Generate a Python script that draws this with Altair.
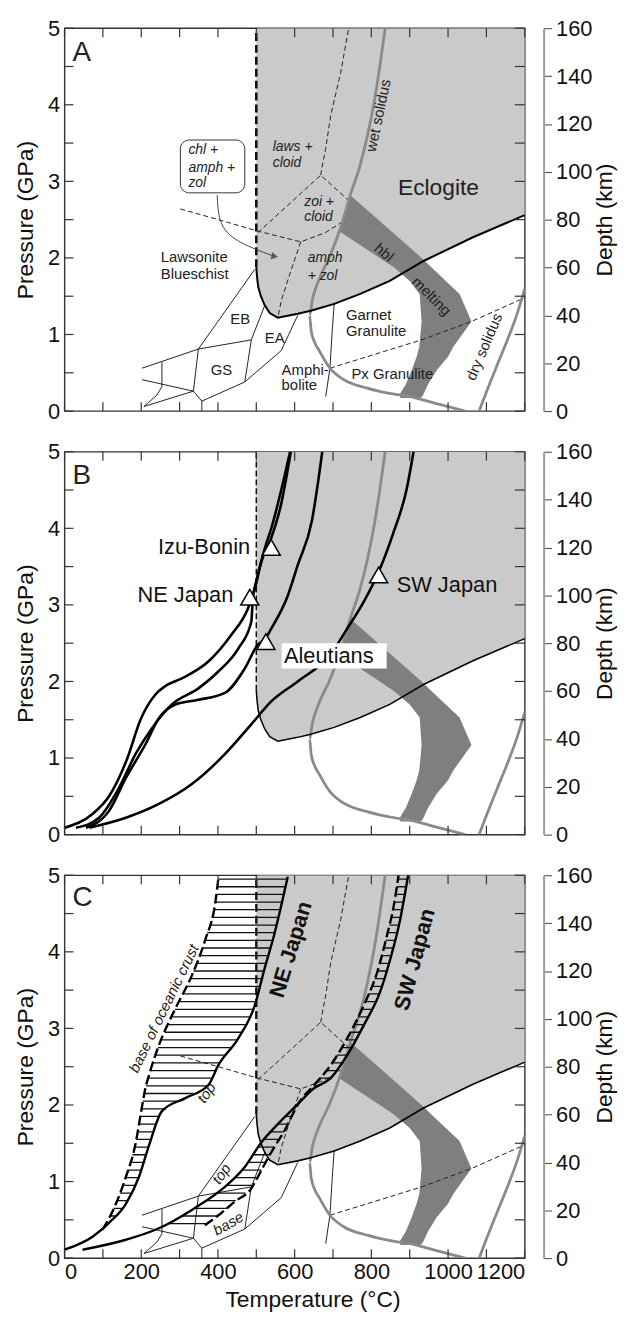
import altair as alt
import numpy as np
import pandas as pd

W, H = 464, 386
FONT = "Liberation Sans"
XS = alt.Scale(domain=[0, 1200], nice=False, zero=False)
YS = alt.Scale(domain=[0, 5], nice=False, zero=False)

# ---------------- data ----------------
T_TICKS = [0, 100, 200, 300, 400, 500, 600, 700, 800, 900, 1000, 1100, 1200]
T_LABELS = [0, 200, 400, 600, 800, 1000, 1200]
P_TICKS = [0, 0.5, 1, 1.5, 2, 2.5, 3, 3.5, 4, 4.5, 5]
P_LABELS = [0, 1, 2, 3, 4, 5]
DEPTH_TICKS = [0, 20, 40, 60, 80, 100, 120, 140, 160]

# eclogite field lower boundary
ECL_T = [500, 502, 505, 512, 522, 535, 556, 608, 642, 703, 771, 848, 936, 1065, 1200]
ECL_P = [1.88, 1.75, 1.62, 1.50, 1.38, 1.28, 1.22, 1.27, 1.31, 1.40, 1.53, 1.70, 1.96, 2.27, 2.56]

# hornblende melting band (pressure, left T, right T)
HBL_P = [2.82, 2.60, 2.35, 2.00, 1.88, 1.70, 1.53, 1.17, 0.84, 0.71, 0.53, 0.35, 0.21, 0.17]
HBL_TL = [745, 730, 716, 822, 858, 900, 926, 931, 925, 918, 905, 890, 873, 876]
HBL_TR = [745, 795, 852, 931, 956, 994, 1030, 1061, 1014, 1000, 970, 948, 935, 929]

WET_T = [836, 822, 806, 790, 770, 745, 720, 690, 662, 646, 639, 643, 652, 664, 692, 728, 789, 860, 901, 960, 1045]
WET_P = [5.0, 4.5, 4.0, 3.6, 3.2, 2.82, 2.4, 2.0, 1.70, 1.45, 1.25, 1.05, 0.90, 0.79, 0.56, 0.41, 0.30, 0.22, 0.19, 0.11, 0.0]
DRY_T = [1081, 1100, 1128, 1158, 1180, 1200]
DRY_P = [0.0, 0.25, 0.60, 0.97, 1.27, 1.60]

V500_T = [500, 500]
V500_P = [1.88, 5.0]

# thin dashed reaction lines
D1_T = [302, 401, 504, 616, 680, 724]
D1_P = [2.64, 2.50, 2.35, 2.21, 2.33, 2.47]
D2_T = [504, 668, 741]
D2_P = [2.33, 3.08, 2.75]
D3_T = [668, 672, 681, 694, 720, 741]
D3_P = [3.08, 3.2, 3.43, 3.86, 4.42, 5.0]
D4_T = [616, 590, 565, 557]
D4_P = [2.21, 1.83, 1.44, 1.24]
GPX_T = [692, 931, 1061, 1200]
GPX_P = [0.56, 0.93, 1.17, 1.48]

# thin solid facies boundaries
VTH_T = [703, 698, 692, 681]
VTH_P = [1.40, 1.05, 0.56, 0.19]
F1_T, F1_P = [496, 349], [1.85, 0.81]
F2_T, F2_P = [202, 349, 487], [0.56, 0.81, 0.93]
F3_T, F3_P = [522, 487, 470], [1.38, 0.93, 0.38]
F4_T, F4_P = [608, 565, 470, 358, 358], [1.25, 0.79, 0.38, 0.13, 0.0]
F5_T, F5_P = [349, 336, 358], [0.81, 0.26, 0.13]
F6_T, F6_P = [202, 336], [0.41, 0.26]
F7_T, F7_P = [207, 336], [0.06, 0.26]
F8_T, F8_P = [254, 254, 241, 207], [0.64, 0.32, 0.21, 0.06]

# chl+amph+zol box and arrow
BOX_T = [302, 470]
BOX_P = [2.85, 3.54]
ARR_T = [398, 400, 410, 440, 480, 520, 548]
ARR_P = [2.82, 2.6, 2.4, 2.25, 2.15, 2.07, 2.02]

# panel B slab-surface paths
NE_B_T = [0, 73, 116, 164, 198, 237, 263, 306, 375, 435, 478, 496, 513, 538, 564, 590]
NE_B_P = [0.09, 0.27, 0.5, 1.0, 1.5, 1.83, 1.94, 2.04, 2.26, 2.61, 2.95, 3.21, 3.56, 3.86, 4.30, 5.0]
IZU_B_T = [30, 90, 142, 185, 228, 280, 349, 401, 453, 487, 491, 502, 520, 542, 565, 588]
IZU_B_P = [0.09, 0.22, 0.61, 1.05, 1.39, 1.70, 1.91, 2.13, 2.43, 2.78, 3.08, 3.35, 3.7, 4.05, 4.5, 5.0]
AL_B_T = [56, 116, 160, 211, 246, 289, 349, 418, 470, 504, 522, 539, 582, 608, 645, 672]
AL_B_P = [0.09, 0.31, 0.74, 1.18, 1.52, 1.70, 1.76, 1.85, 2.17, 2.48, 2.55, 2.69, 3.12, 3.52, 4.1, 5.0]
SW_B_T = [65, 160, 246, 332, 418, 487, 539, 608, 693, 737, 780, 819, 858, 892, 910]
SW_B_P = [0.09, 0.22, 0.40, 0.66, 1.05, 1.44, 1.74, 2.00, 2.35, 2.69, 3.04, 3.43, 3.95, 4.51, 5.0]
TRI_T = [539, 483, 525, 819]
TRI_P = [3.75, 3.10, 2.52, 3.39]

# panel C crust top / base
NE_TOP_T = [0, 73, 116, 160, 194, 222, 254, 315, 375, 401, 453, 496, 521, 548, 582]
NE_TOP_P = [0.11, 0.28, 0.46, 0.71, 1.06, 1.5, 1.92, 2.09, 2.26, 2.52, 2.87, 3.30, 3.77, 4.25, 4.98]
NE_BASE_T = [99, 116, 134, 160, 185, 200, 210, 222, 246, 289, 331, 367, 393, 402]
NE_BASE_P = [0.37, 0.52, 0.71, 1.06, 1.49, 1.92, 2.2, 2.42, 2.78, 3.26, 3.68, 4.16, 4.64, 5.0]
SW_TOP_T = [47, 160, 246, 332, 418, 470, 513, 556, 608, 651, 694, 737, 780, 823, 849, 875, 896]
SW_TOP_P = [0.11, 0.24, 0.39, 0.63, 0.93, 1.19, 1.51, 1.75, 2.01, 2.22, 2.35, 2.65, 3.04, 3.48, 3.90, 4.42, 5.0]
SW_BASE_T = [366, 409, 444, 487, 504, 522, 547, 573, 590, 610, 651, 694, 737, 780, 815, 840, 858, 871]
SW_BASE_P = [0.43, 0.59, 0.74, 0.91, 1.06, 1.23, 1.45, 1.66, 1.83, 2.02, 2.26, 2.52, 2.87, 3.30, 3.73, 4.20, 4.59, 5.0]

# ---------------- helpers ----------------
YAX = alt.Axis(values=P_LABELS, title="Pressure (GPa)", ticks=False, domain=False,
               grid=False, labelPadding=5, titlePadding=10, format="d")
XAX_C = alt.Axis(values=T_LABELS, title="Temperature (°C)", ticks=False, domain=False,
                 grid=False, labelPadding=4, titlePadding=6, format="d",
                 titleX=250, titleAlign="center")


def lines(*pairs):
    rows = []
    for k, (T, P) in enumerate(pairs):
        for i, (t, p) in enumerate(zip(T, P)):
            rows.append({"id": k, "ord": i, "T": t, "P": p})
    return pd.DataFrame(rows)


def line_layer(df, xax, color="black", width=1.0, dash=None, interp="linear"):
    kw = dict(color=color, strokeWidth=width, interpolate=interp, clip=True)
    if dash:
        kw["strokeDash"] = dash
    return alt.Chart(df).mark_line(**kw).encode(
        x=alt.X("T:Q", scale=XS, axis=xax),
        y=alt.Y("P:Q", scale=YS, axis=YAX),
        detail="id:N", order="ord:Q")


def text_layer(rows, xax, **kw):
    df = pd.DataFrame(rows, columns=["T", "P", "txt", "ang"])
    base = dict(font=FONT, color="#222", clip=False)
    base.update(kw)
    return alt.Chart(df).mark_text(**base).encode(
        x=alt.X("T:Q", scale=XS, axis=xax),
        y=alt.Y("P:Q", scale=YS, axis=YAX),
        text="txt:N", angle=alt.Angle("ang:Q", scale=None))


def hatch(levels, base_T, base_P, top_T, top_P):
    lv = [p for p in levels if base_P[0] <= p <= base_P[-1]]
    return pd.DataFrame({"P": lv,
                         "T1": np.interp(lv, base_P, base_T),
                         "T2": np.interp(lv, top_P, top_T)})


def common_layers(xax, ecl_w, v500_w, v500_dash):
    ecl = alt.Chart(pd.DataFrame({"T": ECL_T, "P": ECL_P})).mark_area(
        color="#cacaca", clip=True).encode(
        x=alt.X("T:Q", scale=XS, axis=xax), y=alt.Y("P:Q", scale=YS, axis=YAX),
        y2=alt.datum(5))
    band = alt.Chart(pd.DataFrame({"P": HBL_P, "TL": HBL_TL, "TR": HBL_TR})).mark_area(
        color="#7f7f7f", orient="horizontal", clip=True).encode(
        y=alt.Y("P:Q", scale=YS, axis=YAX), x=alt.X("TL:Q", scale=XS, axis=xax), x2="TR:Q")
    sol = line_layer(lines((WET_T, WET_P), (DRY_T, DRY_P)), xax, color="#8a8a8a",
                     width=2.8, interp="monotone")
    eb = line_layer(lines((ECL_T, ECL_P)), xax, color="black", width=ecl_w)
    v5 = line_layer(lines((V500_T, V500_P)), xax, color="#111", width=v500_w, dash=v500_dash)
    return ecl, band, sol, eb, v5


def facies_layers(xax):
    dashed = line_layer(lines((D1_T, D1_P), (D2_T, D2_P), (D3_T, D3_P), (D4_T, D4_P),
                              (GPX_T, GPX_P)), xax, color="#222", width=1.0, dash=[5, 3])
    solid = line_layer(lines((VTH_T, VTH_P), (F1_T, F1_P), (F2_T, F2_P), (F3_T, F3_P),
                             (F4_T, F4_P), (F5_T, F5_P), (F6_T, F6_P), (F7_T, F7_P),
                             (F8_T, F8_P)), xax, color="#222", width=1.0)
    return dashed, solid


def tick_layers(xax):
    pdf = pd.DataFrame({"P": P_TICKS})
    tdf = pd.DataFrame({"T": T_TICKS})
    yenc = alt.Y("P:Q", scale=YS, axis=YAX)
    xenc = alt.X("T:Q", scale=XS, axis=xax)
    rk = dict(color="#333", strokeWidth=1.2)
    return [
        alt.Chart(pdf).mark_rule(**rk).encode(y=yenc, x=alt.value(0), x2=alt.value(9)),
        alt.Chart(pdf).mark_rule(**rk).encode(y=yenc, x=alt.value(W - 10), x2=alt.value(W)),
        alt.Chart(tdf).mark_rule(**rk).encode(x=xenc, y=alt.value(H - 9), y2=alt.value(H)),
        alt.Chart(tdf).mark_rule(**rk).encode(x=xenc, y=alt.value(0), y2=alt.value(9)),
    ]


def depth_layer():
    return alt.Chart(pd.DataFrame({"D": DEPTH_TICKS})).mark_point(opacity=0).encode(
        x=alt.value(0),
        y=alt.Y("D:Q", scale=alt.Scale(domain=[0, 160], nice=False, zero=False),
                axis=alt.Axis(orient="right", offset=19, values=DEPTH_TICKS, title="Depth (km)",
                              titleAngle=270, titleBaseline="top", titlePadding=2,
                              domainColor="#9a9a9a", domainWidth=2, tickColor="#444",
                              tickSize=8, labelPadding=4, grid=False, format="d")))


def panel(layers):
    inner = alt.layer(*layers)
    return alt.layer(inner, depth_layer()).resolve_scale(y="independent").properties(
        width=W, height=H)


# ---------------- panel A ----------------
xa = None
ecl, band, sol, eb, v5 = common_layers(xa, 2.0, 2.6, [8, 4])
fd, fs = facies_layers(xa)
box = alt.Chart(pd.DataFrame({"T1": [BOX_T[0]], "T2": [BOX_T[1]], "P1": [BOX_P[0]],
                              "P2": [BOX_P[1]]})).mark_rect(
    fill="white", stroke="#333", strokeWidth=1.0, cornerRadius=9).encode(
    x=alt.X("T1:Q", scale=XS, axis=xa), x2="T2:Q", y=alt.Y("P1:Q", scale=YS, axis=YAX), y2="P2:Q")
arrow = line_layer(lines((ARR_T, ARR_P)), xa, color="#444", width=1.0, interp="basis")
head = alt.Chart(pd.DataFrame({"T": [ARR_T[-1]], "P": [ARR_P[-1]]})).mark_point(
    shape="triangle-right", size=60, filled=True, color="#333", angle=12).encode(
    x=alt.X("T:Q", scale=XS, axis=xa), y=alt.Y("P:Q", scale=YS, axis=YAX))

txtA_big = text_layer([[21, 4.68, "A", 0]], xa, fontSize=28, align="left", baseline="middle")
txtA_ecl = text_layer([[975, 2.91, "Eclogite", 0]], xa, fontSize=23)
txtA_fac = text_layer([
    [251, 2.01, "Lawsonite", 0], [251, 1.79, "Blueschist", 0],
    [734, 1.25, "Garnet", 0], [734, 1.04, "Granulite", 0],
    [748, 0.49, "Px Granulite", 0], [566, 0.53, "Amphi-", 0], [566, 0.34, "bolite", 0],
], xa, fontSize=15, align="left")
txtA_abbr = text_layer([[458, 1.20, "EB", 0], [548, 0.95, "EA", 0], [409, 0.54, "GS", 0]],
                       xa, fontSize=15)
txtA_rot = text_layer([
    [833, 2.07, "hbl", 40], [957, 1.50, "melting", 45],
    [818, 3.86, "wet solidus", 282], [1094, 0.84, "dry solidus", 293],
], xa, fontSize=15)
txtA_it = text_layer([
    [543, 3.45, "laws +", 0], [543, 3.24, "cloid", 0],
    [625, 2.73, "zoi +", 0], [625, 2.54, "cloid", 0],
    [634, 2.00, "amph", 0], [634, 1.76, "+ zol", 0],
    [323, 3.41, "chl +", 0], [323, 3.17, "amph +", 0], [323, 2.98, "zol", 0],
], xa, fontSize=14, align="left", fontStyle="italic")

chartA = panel([ecl, band, fd, fs, sol, eb, v5, box, arrow, head] + tick_layers(xa) +
               [txtA_big, txtA_ecl, txtA_fac, txtA_abbr, txtA_rot, txtA_it])

# ---------------- panel B ----------------
xb = None
ecl, band, sol, eb, v5 = common_layers(xb, 1.5, 1.5, [6, 3])
curvesB = line_layer(lines((NE_B_T, NE_B_P), (IZU_B_T, IZU_B_P), (AL_B_T, AL_B_P),
                           (SW_B_T, SW_B_P)), xb, color="black", width=2.6, interp="monotone")
tri = alt.Chart(pd.DataFrame({"T": TRI_T, "P": TRI_P})).mark_point(
    shape="triangle-up", size=330, filled=True, fill="white", stroke="black",
    strokeWidth=1.5, opacity=1).encode(
    x=alt.X("T:Q", scale=XS, axis=xb), y=alt.Y("P:Q", scale=YS, axis=YAX))
aleut_box = alt.Chart(pd.DataFrame({"T1": [566], "T2": [840], "P1": [2.17], "P2": [2.50]})).mark_rect(
    fill="white").encode(x=alt.X("T1:Q", scale=XS, axis=xb), x2="T2:Q",
                         y=alt.Y("P1:Q", scale=YS, axis=YAX), y2="P2:Q")
txtB_big = text_layer([[21, 4.68, "B", 0]], xb, fontSize=28, align="left", baseline="middle")
txtB_r = text_layer([[484, 3.75, "Izu-Bonin", 0], [440, 3.13, "NE Japan", 0]], xb,
                    fontSize=22, align="right", color="#111")
txtB_l = text_layer([[572, 2.33, "Aleutians", 0], [866, 3.26, "SW Japan", 0]], xb,
                    fontSize=22, align="left", color="#111")
chartB = panel([ecl, band, sol, eb, v5, curvesB, aleut_box, tri] + tick_layers(xb) +
               [txtB_big, txtB_r, txtB_l])

# ---------------- panel C ----------------
xc = XAX_C
ecl, band, sol, eb, v5 = common_layers(xc, 1.6, 2.4, [8, 4])
fd, fs = facies_layers(xc)
HATCH_LEVELS = [round(0.45 + 0.1 * i, 2) for i in range(46)]
hne = hatch(HATCH_LEVELS, NE_BASE_T, NE_BASE_P, NE_TOP_T, NE_TOP_P)
hsw = hatch(HATCH_LEVELS, SW_BASE_T, SW_BASE_P, SW_TOP_T, SW_TOP_P)
hatch_df = pd.concat([hne, hsw], ignore_index=True)
hatchL = alt.Chart(hatch_df).mark_rule(color="#111", strokeWidth=1.3, clip=True).encode(
    y=alt.Y("P:Q", scale=YS, axis=YAX), x=alt.X("T1:Q", scale=XS, axis=xc), x2="T2:Q")
tops = line_layer(lines((NE_TOP_T, NE_TOP_P), (SW_TOP_T, SW_TOP_P)), xc, color="black",
                  width=2.4, interp="monotone")
bases = line_layer(lines((NE_BASE_T, NE_BASE_P), (SW_BASE_T, SW_BASE_P)), xc, color="black",
                   width=2.4, dash=[10, 4], interp="monotone")
txtC_big = text_layer([[21, 4.70, "C", 0]], xc, fontSize=28, align="left", baseline="middle")
txtC_bold = text_layer([[590, 4.03, "NE Japan", 287], [913, 3.90, "SW Japan", 285]], xc,
                       fontSize=22, fontWeight="bold", color="#111")
txtC_it = text_layer([
    [259, 3.26, "base of oceanic crust", 296], [370, 2.16, "top", 305],
    [409, 1.10, "top", 305], [427, 0.45, "base", 330],
], xc, fontSize=15, fontStyle="italic")
chartC = panel([ecl, band, fd, fs, sol, eb, v5, hatchL, tops, bases] + tick_layers(xc) +
               [txtC_big, txtC_bold, txtC_it])

chart = alt.vconcat(chartA, chartB, chartC, spacing=41, bounds="flush").properties(
    padding={"left": 6, "top": 3, "right": 0, "bottom": 2}
).configure_view(stroke="#333", strokeWidth=1.4).configure_axis(
    labelFont=FONT, titleFont=FONT, labelFontSize=22, titleFontSize=23,
    titleFontWeight="normal", labelColor="#111", titleColor="#111"
).configure_text(font=FONT)

chart.save("out.html", embed_options={"renderer": "svg", "actions": False})
